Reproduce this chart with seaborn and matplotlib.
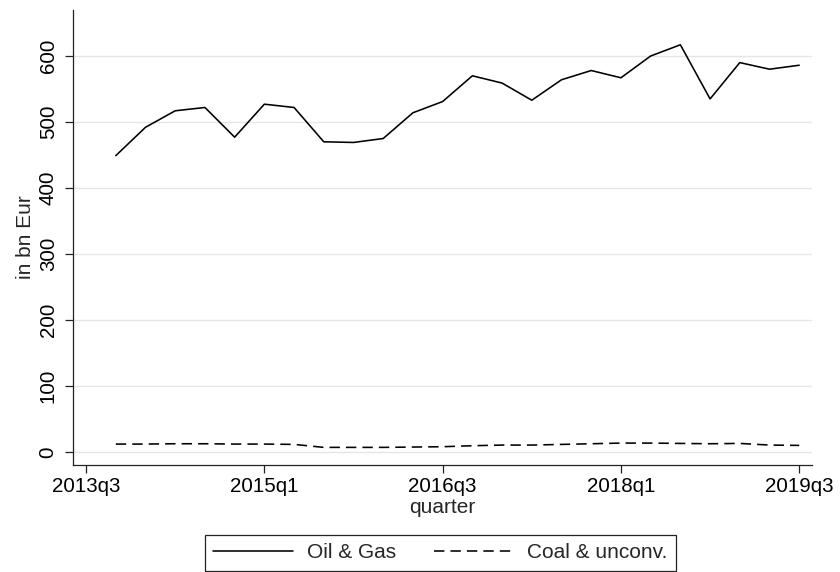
import matplotlib
matplotlib.use("Agg")
import matplotlib.pyplot as plt
import seaborn as sns
import pandas as pd
from matplotlib.lines import Line2D

# Quarterly exposure, in bn EUR, 2013q4 .. 2019q3
quarters = [
    "2013q4", "2014q1", "2014q2", "2014q3", "2014q4", "2015q1", "2015q2", "2015q3",
    "2015q4", "2016q1", "2016q2", "2016q3", "2016q4", "2017q1", "2017q2", "2017q3",
    "2017q4", "2018q1", "2018q2", "2018q3", "2018q4", "2019q1", "2019q2", "2019q3",
]
oil_gas = [449, 492, 517, 522, 477, 527, 522, 470, 469, 475, 514, 531,
           570, 559, 533, 564, 578, 567, 600, 617, 535, 590, 580, 586]
coal_unconv = [12, 12, 12.5, 12.5, 12, 12, 11.5, 7, 7, 7, 7.5, 8,
               9.5, 10.5, 10.5, 11.5, 12.5, 13.5, 13.5, 13, 12.5, 13, 10.5, 10]

x_tick_labels = ["2013q3", "2015q1", "2016q3", "2018q1", "2019q3"]
y_ticks = [0, 100, 200, 300, 400, 500, 600]
series_names = ["Oil & Gas", "Coal & unconv."]


def quarter_index(q):
    # quarters counted from 2013q3
    year, qq = int(q[:4]), int(q[-1])
    return (year - 2013) * 4 + (qq - 3)


df = pd.DataFrame({
    "q": [quarter_index(q) for q in quarters] * 2,
    "value": oil_gas + coal_unconv,
    "series": [series_names[0]] * len(quarters) + [series_names[1]] * len(quarters),
})

sns.set_theme(style="white")
plt.rcParams["font.family"] = ["Liberation Sans", "DejaVu Sans"]

fig = plt.figure(figsize=(8.4, 5.72), dpi=100)
ax = fig.add_axes([73 / 840, 107 / 572, (812 - 73) / 840, (562 - 107) / 572])

line_dash = (6.5, 3.8)
dash_map = {series_names[0]: "", series_names[1]: line_dash}
sns.lineplot(data=df, x="q", y="value", style="series", dashes=dash_map,
             color="black", linewidth=1.15, ax=ax, legend=False)

ax.set_xlim(-0.44, 24.43)
ax.set_ylim(-19.7, 669.7)

ax.set_xticks([quarter_index(t) for t in x_tick_labels])
ax.set_xticklabels(x_tick_labels, fontsize=14.8)
ax.set_yticks(y_ticks)
ax.set_yticklabels([str(v) for v in y_ticks], fontsize=14.8, rotation=90, va="center")

ax.yaxis.grid(True, color="#e6e6e6", linewidth=1.0)
ax.xaxis.grid(False)
ax.set_axisbelow(True)

for side in ["top", "right"]:
    ax.spines[side].set_visible(False)
for side in ["left", "bottom"]:
    ax.spines[side].set_color("#222222")
    ax.spines[side].set_linewidth(0.9)

ax.tick_params(axis="both", which="major", direction="out", length=6, width=0.9,
               color="#222222", labelcolor="black")
ax.tick_params(axis="x", pad=3)
ax.tick_params(axis="y", pad=5)
ax.tick_params(left=True, bottom=True)

ax.set_xlabel("quarter", fontsize=15, labelpad=1)
ax.set_ylabel("in bn Eur", fontsize=15, labelpad=3)

handles = [
    Line2D([], [], color="black", linewidth=1.15, linestyle="-"),
    Line2D([], [], color="black", linewidth=1.15, dashes=line_dash),
]
leg = fig.legend(handles, series_names, loc="upper left",
                 bbox_to_anchor=(205 / 840, 1 - 535 / 572), ncol=2,
                 fontsize=15, frameon=True, fancybox=False, shadow=False,
                 handlelength=3.8, handletextpad=0.7, columnspacing=1.8,
                 borderpad=0.4, borderaxespad=0)
leg.get_frame().set_edgecolor("#222222")
leg.get_frame().set_linewidth(0.9)
leg.get_frame().set_facecolor("white")
leg.get_frame().set_alpha(1)

fig.savefig("out.png", dpi=100)
